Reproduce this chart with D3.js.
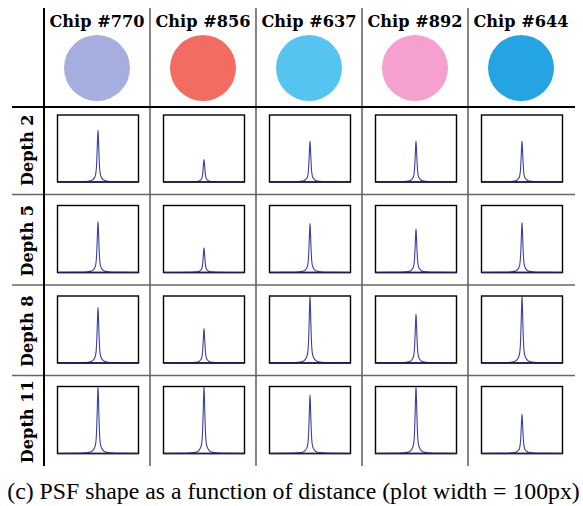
<!DOCTYPE html>
<html>
<head>
<meta charset="utf-8">
<script src="https://cdn.jsdelivr.net/npm/d3@7"></script>
<style>
  html, body { margin: 0; padding: 0; background: #fff; }
  svg { display: block; }
</style>
</head>
<body>
<svg id="chart" width="583" height="506"></svg>
<script>
// Chips (columns) and their swatch colours
const chips = ["#770", "#856", "#637", "#892", "#644"];
const chipColors = ["#a6addf", "#f26c62", "#56c4f1", "#f5a0cf", "#24a4e3"];

// Depths (rows)
const depths = [2, 5, 8, 11];

// Peak height of the PSF in each cell, as a fraction of the plot height
const peakDepth2  = [0.775, 0.335, 0.61, 0.61, 0.61];
const peakDepth5  = [0.76, 0.37, 0.73, 0.65, 0.745];
const peakDepth8  = [0.83, 0.515, 1.0, 0.73, 1.0];
const peakDepth11 = [1.0, 1.0, 0.875, 1.0, 0.585];
const peaks = [peakDepth2, peakDepth5, peakDepth8, peakDepth11];

// Normalised PSF profile: distance from centre (px, plot is 100px wide) and relative level
const profileOffsets = [0, 0.5, 1, 1.5, 2, 3, 4, 6, 8, 12, 18, 30, 50];
const profileLevels  = [1, 0.85, 0.62, 0.42, 0.27, 0.14, 0.095, 0.05, 0.03, 0.015, 0.006, 0.002, 0];

const svg = d3.select("#chart");

// Grid layout
const col = d3.scaleBand().domain(chips).range([44, 574]);
const row = d3.scaleBand().domain(depths).range([104, 466]);
const boxW = 81, boxH = 67, boxTop = 11;

// Grid lines
const lineG = svg.append("g");
col.domain().slice(1).forEach(c => {
  lineG.append("line")
    .attr("x1", col(c)).attr("x2", col(c))
    .attr("y1", 8).attr("y2", 466)
    .attr("stroke", "#333").attr("stroke-width", 1.2);
});
depths.slice(1).forEach(d => {
  lineG.append("line")
    .attr("x1", 12).attr("x2", 575)
    .attr("y1", row(d)).attr("y2", row(d))
    .attr("stroke", "#666").attr("stroke-width", 1.5);
});
lineG.append("line")
  .attr("x1", 12).attr("x2", 575).attr("y1", 107).attr("y2", 107)
  .attr("stroke", "#000").attr("stroke-width", 2);
lineG.append("line")
  .attr("x1", 44).attr("x2", 44).attr("y1", 8).attr("y2", 466)
  .attr("stroke", "#000").attr("stroke-width", 2);

const labelFont = { family: "DejaVu Serif", size: 17 };

// Column headers: chip name and colour swatch
const head = svg.append("g").selectAll("g").data(chips).join("g")
  .attr("transform", c => `translate(${col(c) + col.bandwidth() / 2},0)`);
const headText = head.append("text")
  .attr("y", 26.5)
  .attr("text-anchor", "middle")
  .attr("font-family", labelFont.family)
  .attr("font-weight", "bold")
  .attr("font-size", labelFont.size)
  .attr("fill", "#000")
  .text(c => `Chip ${c}`);
head.append("circle")
  .attr("cy", 68).attr("r", 33)
  .attr("fill", (c, i) => chipColors[i]);

// Row labels
const rowText = svg.append("g").selectAll("text").data(depths).join("text")
  .attr("transform", d => `translate(33,${row(d) + row.bandwidth() / 2 + 1}) rotate(-90)`)
  .attr("text-anchor", "middle")
  .attr("font-family", labelFont.family)
  .attr("font-weight", "bold")
  .attr("font-size", labelFont.size)
  .attr("fill", "#000")
  .text(d => `Depth ${d}`);

// Condense the bold labels slightly so each header fits its column
const squeeze = 95 / headText.node().getComputedTextLength();
[headText, rowText].forEach(sel => sel.each(function () {
  const n = this.getComputedTextLength();
  d3.select(this).attr("textLength", n * squeeze).attr("lengthAdjust", "spacingAndGlyphs");
}));

// PSF plots
const x = d3.scaleLinear().domain([0, 100]).range([0, boxW]);
const y = d3.scaleLinear().domain([0, 1]).range([boxH, 0]);
const defs = svg.append("defs");
defs.append("clipPath").attr("id", "box-clip")
  .append("rect").attr("x", 0).attr("y", 0).attr("width", boxW).attr("height", boxH);

const line = d3.line().x(p => x(p[0])).y(p => y(p[1])).curve(d3.curveMonotoneX);

depths.forEach((d, ri) => {
  chips.forEach((c, ci) => {
    const g = svg.append("g")
      .attr("transform", `translate(${col(c) + col.bandwidth() / 2 + 1 - boxW / 2},${row(d) + boxTop})`);
    const h = peaks[ri][ci];
    const pts = [];
    for (let k = profileOffsets.length - 1; k >= 1; k--) pts.push([50 - profileOffsets[k], h * profileLevels[k]]);
    for (let k = 0; k < profileOffsets.length; k++) pts.push([50 + profileOffsets[k], h * profileLevels[k]]);
    g.append("path")
      .attr("d", line(pts))
      .attr("clip-path", "url(#box-clip)")
      .attr("fill", "none")
      .attr("stroke", "#3a3fa6")
      .attr("stroke-width", 1.1);
    g.append("rect")
      .attr("width", boxW).attr("height", boxH)
      .attr("fill", "none")
      .attr("stroke", "#000")
      .attr("stroke-width", 1.4);
    g.append("line")
      .attr("x1", 0).attr("x2", boxW).attr("y1", boxH).attr("y2", boxH)
      .attr("stroke", "#1c1f5c").attr("stroke-width", 1.6);
  });
});

// Caption, sized to span the figure width
const cap = svg.append("text")
  .attr("x", 293.5).attr("y", 499)
  .attr("text-anchor", "middle")
  .attr("font-family", "Liberation Serif")
  .attr("font-size", 20)
  .attr("fill", "#000")
  .text("(c) PSF shape as a function of distance (plot width = 100px)");
const w = cap.node().getComputedTextLength();
cap.attr("font-size", 20 * 573 / w);
</script>
</body>
</html>
